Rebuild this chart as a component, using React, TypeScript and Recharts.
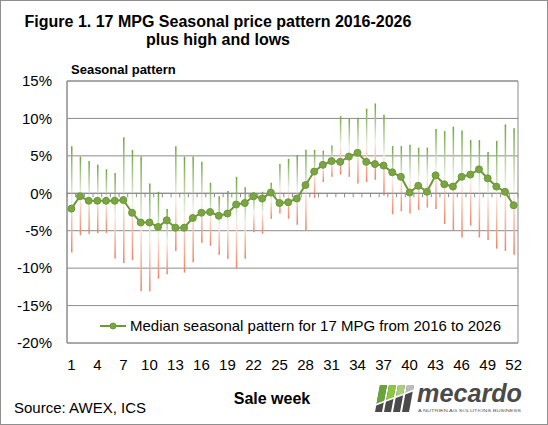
import React from 'react';
import {
  ComposedChart,
  Bar,
  Line,
  XAxis,
  YAxis,
  CartesianGrid,
  ReferenceLine,
  ReferenceArea,
} from 'recharts';

const weeks = [
  '1', '2', '3', '4', '5', '6', '7', '8', '9', '10', '11', '12', '13',
  '14', '15', '16', '17', '18', '19', '20', '21', '22', '23', '24', '25', '26',
  '27', '28', '29', '30', '31', '32', '33', '34', '35', '36', '37', '38', '39',
  '40', '41', '42', '43', '44', '45', '46', '47', '48', '49', '50', '51', '52',
];

const highs = [
  6.3, 4.9, 4.3, 3.8, 3.2, 2.7, 7.5, 5.8, 4.9, 1.3, 0.2, -2.1, 6.3,
  4.9, 4.9, 4.2, 1.4, -0.4, 0.3, 2.2, 0.8, 0.1, 0.2, 1.4, 3.9, 4.6,
  5.1, 5.8, 5.8, 5.7, 6.4, 10.3, 10.0, 10.1, 11.3, 12.0, 10.5, 6.3, 6.3,
  6.5, 6.1, 6.1, 8.6, 8.3, 8.9, 8.4, 7.1, 7.1, 5.5, 7.0, 9.2, 8.7,
];

const lows = [
  -7.9, -5.6, -5.4, -5.3, -5.3, -8.7, -9.3, -8.9, -13.1, -13.1, -11.4, -10.8, -7.7,
  -10.6, -9.2, -6.6, -7.0, -8.2, -8.75, -10.0, -8.75, -5.2, -5.4, -3.4, -2.7, -3.4,
  -4.2, -5.0, -0.6, 1.5, 2.2, 2.5, 2.2, 1.3, 1.5, 1.8, -0.3, -2.8, -2.4,
  -2.7, -2.2, -1.9, -2.1, -4.1, -5.0, -5.9, -4.3, -5.9, -6.25, -7.4, -7.7, -8.2,
];

const medians = [
  -2.05, -0.4, -1.0, -1.0, -1.0, -1.0, -0.9, -2.6, -3.9, -3.9, -4.5, -3.6, -4.6,
  -4.6, -3.3, -2.6, -2.5, -3.0, -2.7, -1.5, -1.3, -0.4, -0.7, 0.1, -1.3, -1.2,
  -0.7, 1.1, 2.9, 3.8, 4.3, 4.2, 4.9, 5.4, 4.2, 3.9, 3.7, 2.8, 2.2,
  0.1, 1.0, 0.2, 2.4, 1.2, 0.9, 2.2, 2.5, 3.2, 2.0, 0.9, 0.2, -1.6,
];

const yTicks = [-20, -15, -10, -5, 0, 5, 10, 15];

const legendLabel = 'Median seasonal pattern for 17 MPG from 2016 to 2026';

const data = weeks.map((w, i) => ({
  week: w,
  range: [lows[i], highs[i]],
  median: medians[i],
}));

const GRID = '#8c8c8c';
const LINE = '#6b9a3a';
const DOT = '#7aa541';
const FONT = '"Liberation Sans", Arial, Helvetica, sans-serif';

function ZeroAxis(props: any) {
  const { x1, y1, x2 } = props;
  const n = weeks.length;
  const step = (x2 - x1) / n;
  const ticks = [];
  for (let i = 0; i <= n; i++) {
    ticks.push(
      <line
        key={i}
        x1={x1 + i * step}
        x2={x1 + i * step}
        y1={y1}
        y2={y1 + 4}
        stroke={GRID}
        strokeWidth={1}
      />
    );
  }
  return (
    <g>
      <line x1={x1} y1={y1} x2={x2} y2={y1} stroke={GRID} strokeWidth={1} />
      {ticks}
    </g>
  );
}

const logoBars = [
  { bx: 375, top: '#6aa33a' },
  { bx: 384, top: '#8dc63f' },
  { bx: 393, top: '#a9cf7a' },
  { bx: 402, top: '#bdbdbd' },
];

function Logo() {
  return (
    <g>
      <defs>
        <clipPath id="logoTop">
          <polygon points="370,383 416,383 416,389.5 370,407" />
        </clipPath>
      </defs>
      {logoBars.map((b, i) => (
        <polygon
          key={`g${i}`}
          points={`${b.bx},412 ${b.bx + 7},412 ${b.bx + 12},385 ${b.bx + 5},385`}
          fill="#4a4a4a"
        />
      ))}
      <g clipPath="url(#logoTop)">
        {logoBars.map((b, i) => (
          <polygon
            key={`t${i}`}
            points={`${b.bx},412 ${b.bx + 7},412 ${b.bx + 12},385 ${b.bx + 5},385`}
            fill={b.top}
          />
        ))}
      </g>
      <line x1={370} y1={407} x2={416} y2={389.5} stroke="#fff" strokeWidth={1.5} />
      <text
        x={417}
        y={402}
        fontFamily={FONT}
        fontWeight="bold"
        fontStyle="italic"
        fontSize={25}
        fill="#4a4a4a"
        textLength={105}
        lengthAdjust="spacingAndGlyphs"
      >
        mecardo
      </text>
      <text
        x={418}
        y={412}
        fontFamily={FONT}
        fontSize={4}
        fill="#555"
        textLength={103}
        lengthAdjust="spacingAndGlyphs"
      >
        A NUTRIEN AG SOLUTIONS BUSINESS
      </text>
    </g>
  );
}

export default function App() {
  return (
    <div style={{ position: 'absolute', left: 0, top: 0, width: 548, height: 425, background: '#fff' }}>
      <ComposedChart
        width={548}
        height={425}
        data={data}
        margin={{ top: 81, right: 30, bottom: 52, left: 7 }}
        style={{ fontFamily: FONT }}
      >
        <defs>
          <linearGradient id="hlGrad" x1="0" y1="0" x2="0" y2="1">
            <stop offset="0%" stopColor="#6fa640" />
            <stop offset="48%" stopColor="#e9f1e2" />
            <stop offset="52%" stopColor="#fbe9e1" />
            <stop offset="100%" stopColor="#ee8462" />
          </linearGradient>
        </defs>
        <CartesianGrid vertical={false} stroke={GRID} strokeWidth={1} />
        <ReferenceArea y1={-20} y2={15} stroke={GRID} strokeWidth={1} fill="none" fillOpacity={0} />
        <XAxis
          dataKey="week"
          interval={2}
          axisLine={false}
          tickLine={false}
          tickSize={0}
          tickMargin={16}
          height={30}
          tick={{ fill: '#000', fontSize: 15, fontFamily: FONT }}
        />
        <YAxis
          domain={[-20, 15]}
          ticks={yTicks}
          tickFormatter={(v: number) => `${v}%`}
          axisLine={{ stroke: GRID }}
          tickLine={false}
          tickSize={0}
          tickMargin={15}
          width={60}
          tick={{ fill: '#000', fontSize: 15, fontFamily: FONT }}
        />
        <ReferenceLine y={0} stroke={GRID} shape={ZeroAxis} />
        <Bar dataKey="range" barSize={1.5} fill="url(#hlGrad)" isAnimationActive={false} legendType="none" />
        <Line
          dataKey="median"
          stroke={LINE}
          strokeWidth={2}
          dot={{ r: 3.5, fill: DOT, stroke: LINE, strokeWidth: 1 }}
          isAnimationActive={false}
        />
      </ComposedChart>
      <svg
        width={548}
        height={425}
        style={{ position: 'absolute', left: 0, top: 0, pointerEvents: 'none' }}
      >
        <rect x={0.5} y={0.5} width={547} height={424} fill="none" stroke="#8f8f8f" strokeWidth={1} />
        <text x={218} y={27} textAnchor="middle" fontFamily={FONT} fontWeight="bold" fontSize={16} fill="#000">
          Figure 1. 17 MPG Seasonal price pattern 2016-2026
        </text>
        <text x={218} y={45} textAnchor="middle" fontFamily={FONT} fontWeight="bold" fontSize={16} fill="#000">
          plus high and lows
        </text>
        <text x={71} y={74} fontFamily={FONT} fontWeight="bold" fontSize={13} fill="#000">
          Seasonal pattern
        </text>
        <g>
          <line x1={100} y1={326} x2={126} y2={326} stroke={LINE} strokeWidth={2} />
          <circle cx={113} cy={326} r={3} fill={DOT} stroke={LINE} strokeWidth={1} />
          <text x={130} y={331} fontFamily={FONT} fontSize={15} fill="#000">
            {legendLabel}
          </text>
        </g>
        <text x={272} y={404} textAnchor="middle" fontFamily={FONT} fontWeight="bold" fontSize={16} fill="#000">
          Sale week
        </text>
        <text x={14} y={413} fontFamily={FONT} fontSize={15} fill="#000">
          Source: AWEX, ICS
        </text>
        <Logo />
      </svg>
    </div>
  );
}
